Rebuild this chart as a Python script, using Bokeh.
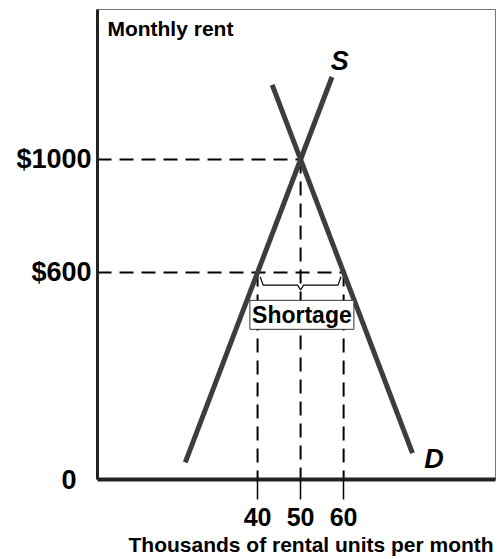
from bokeh.plotting import figure
from bokeh.models import Range1d, FixedTicker, Label
from bokeh.core.properties import value
from bokeh.embed import file_html
from bokeh.resources import INLINE

# ---- data ----
quantity_ticks = [40, 50, 60]
quantity_tick_labels = ["40", "50", "60"]
price_ticks = [600, 1000]
price_tick_labels = ["$600", "$1000"]
origin_label = "0"
x_title = "Thousands of rental units per month"
y_title = "Monthly rent"
equilibrium_q = 50
equilibrium_p = 1000
ceiling_p = 600
q_supplied = 40
q_demanded = 60
supply_q = [23.2, 57.3]
supply_p = [-72, 1292]
demand_q = [43.4, 76.0]
demand_p = [1264, -40]
x_axis_range = (2.8, 95.3)
y_axis_range = (-133, 1531)

FONT = "Liberation Sans"
LINE_COLOR = "#3d3d3d"
NBSP = "\u00a0"

p = figure(width=497, height=559,
           x_range=Range1d(*x_axis_range), y_range=Range1d(*y_axis_range),
           output_backend="svg", toolbar_location=None,
           min_border_left=97, min_border_right=2, min_border_top=9, min_border_bottom=80)
p.grid.visible = False
p.outline_line_color = "#777777"
p.outline_line_width = 1
p.background_fill_color = "white"
p.border_fill_color = "white"

x0, y0 = x_axis_range[0], y_axis_range[0]

# x axis
xa = p.xaxis[0]
xa.ticker = FixedTicker(ticks=quantity_ticks)
xa.major_label_overrides = {t: l for t, l in zip(quantity_ticks, quantity_tick_labels)}
xa.axis_line_width = 4
xa.axis_line_color = "#222222"
xa.major_tick_in = 0
xa.major_tick_out = 20
xa.major_tick_line_color = "black"
xa.major_tick_line_width = 1.5
xa.minor_tick_line_color = None
xa.major_label_text_font = FONT
xa.major_label_text_font_size = "25px"
xa.major_label_text_font_style = "bold"
xa.major_label_text_color = "black"
xa.major_label_standoff = 8
xa.axis_label = NBSP * 5 + x_title
xa.axis_label_text_font = FONT
xa.axis_label_text_font_size = "21px"
xa.axis_label_text_font_style = "bold"
xa.axis_label_text_color = "black"
xa.axis_label_standoff = 4

# y axis (origin tick labelled "0" at the corner)
ya = p.yaxis[0]
ya.ticker = FixedTicker(ticks=[y0] + price_ticks)
overrides = {t: l for t, l in zip(price_ticks, price_tick_labels)}
overrides[y0] = origin_label + NBSP * 2
ya.major_label_overrides = overrides
ya.axis_line_width = 3
ya.axis_line_color = "#222222"
ya.major_tick_in = 0
ya.major_tick_out = 0
ya.minor_tick_line_color = None
ya.major_label_text_font = FONT
ya.major_label_text_font_size = "27px"
ya.major_label_text_font_style = "bold"
ya.major_label_text_color = "black"
ya.major_label_standoff = 6

# dashed guide lines
p.multi_line(xs=[[x0, equilibrium_q], [x0, q_demanded],
                 [equilibrium_q, equilibrium_q], [q_supplied, q_supplied], [q_demanded, q_demanded]],
             ys=[[equilibrium_p, equilibrium_p], [ceiling_p, ceiling_p],
                 [equilibrium_p, y0], [ceiling_p, y0], [ceiling_p, y0]],
             line_color="black", line_width=2, line_dash="14 8")

# supply & demand
p.line(supply_q, supply_p, line_color=LINE_COLOR, line_width=5)
p.line(demand_q, demand_p, line_color=LINE_COLOR, line_width=5)

# brace under the shortage
mid_q = (q_supplied + q_demanded) / 2
bq = [q_supplied + 0.6, q_supplied + 1.3, mid_q - 0.7, mid_q, mid_q + 0.7, q_demanded - 1.3, q_demanded - 0.6]
bp = [ceiling_p - 15, ceiling_p - 45, ceiling_p - 45, ceiling_p - 62, ceiling_p - 45, ceiling_p - 45, ceiling_p - 15]
p.line(bq, bp, line_color="black", line_width=1.2)

# Shortage box
box_p = ceiling_p - 150
p.rect(x=[mid_q + 0.3], y=[box_p], width=104, height=29, width_units="screen", height_units="screen",
       fill_color="white", line_color="#333333", line_width=1)
p.text(x=[mid_q + 0.3], y=[box_p], text=["Shortage"], text_font=value(FONT), text_font_size="23px",
       text_font_style="bold", text_align="center", text_baseline="middle", text_color="black")

# labels
p.add_layout(Label(x=x0 + 2.3, y=1464, text=y_title, text_font=FONT, text_font_size="21px",
                   text_font_style="bold", text_align="left", text_baseline="middle", text_color="black"))
p.add_layout(Label(x=supply_q[1] + 1.8, y=supply_p[1] + 55, text="S", text_font=FONT, text_font_size="27px",
                   text_font_style="bold italic", text_align="center", text_baseline="middle", text_color="black"))
p.add_layout(Label(x=demand_q[1] + 5, y=demand_p[1] - 19, text="D", text_font=FONT, text_font_size="27px",
                   text_font_style="bold italic", text_align="center", text_baseline="middle", text_color="black"))

open("out.html", "w").write(file_html(p, INLINE))
